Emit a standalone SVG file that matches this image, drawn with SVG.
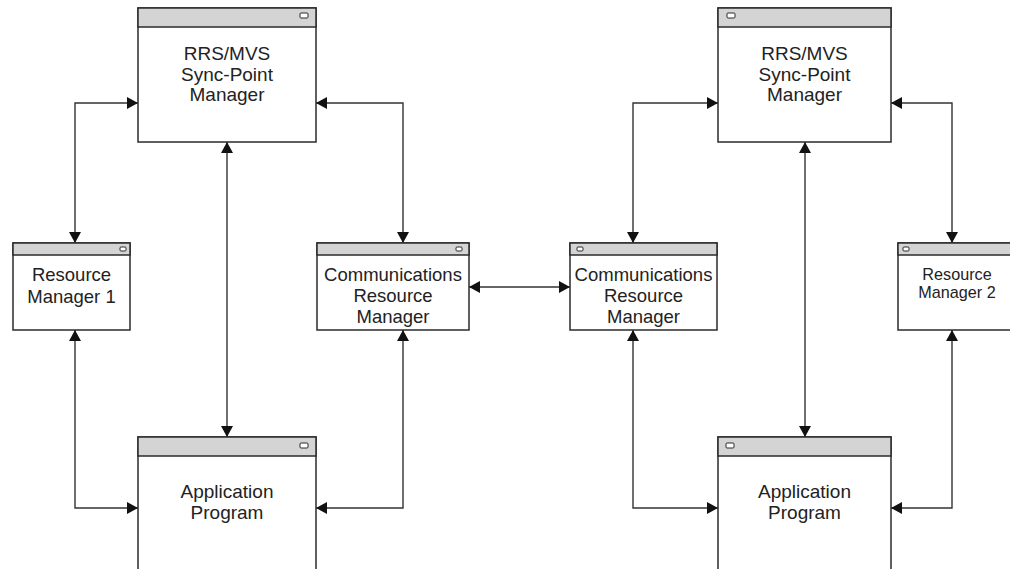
<svg xmlns="http://www.w3.org/2000/svg" width="1010" height="569" viewBox="0 0 1010 569">
<style>
.box{fill:#fff;stroke:#2b2b2b;stroke-width:1.5}
.bar{fill:#d4d4d4;stroke:#2b2b2b;stroke-width:1.5}
.ico{fill:#fff;stroke:#2b2b2b;stroke-width:1}
.t{font-family:"Liberation Sans",Arial,sans-serif;fill:#222;text-anchor:middle}
.c{fill:none;stroke:#333;stroke-width:1.4;marker-start:url(#ah);marker-end:url(#ah)}
</style>
<defs>
<marker id="ah" markerUnits="userSpaceOnUse" markerWidth="12" markerHeight="12" refX="11" refY="6" orient="auto-start-reverse">
<path d="M0,0 L11,6 L0,12 Z" fill="#111"/>
</marker>
</defs>
<rect width="1010" height="569" fill="#fff"/>
<g id="connectors">
<path class="c" d="M75,243 V103 H138"/>
<path class="c" d="M316,103 H403 V243"/>
<path class="c" d="M227,142 V437"/>
<path class="c" d="M75,330 V508 H138"/>
<path class="c" d="M403,330 V508 H316"/>
<path class="c" d="M469,287 H570"/>
<path class="c" d="M633,243 V103 H718"/>
<path class="c" d="M891,103 H952 V243"/>
<path class="c" d="M805,142 V437"/>
<path class="c" d="M633,330 V508 H718"/>
<path class="c" d="M952,330 V508 H891"/>
</g>
<g id="spm-left">
<rect class="box" x="138" y="8" width="178" height="134"/>
<rect class="bar" x="138" y="8" width="178" height="19"/>
<rect class="ico" x="300" y="13" width="8" height="5" rx="1"/>
<text class="t" font-size="19"><tspan x="227" y="60">RRS/MVS</tspan><tspan x="227" y="80.5">Sync-Point</tspan><tspan x="227" y="101">Manager</tspan></text>
</g>
<g id="rm1">
<rect class="box" x="13" y="243" width="117" height="87"/>
<rect class="bar" x="13" y="243" width="117" height="12"/>
<rect class="ico" x="120" y="247" width="6" height="4" rx="1"/>
<text class="t" font-size="18.5"><tspan x="71.5" y="281">Resource</tspan><tspan x="71.5" y="302.5">Manager 1</tspan></text>
</g>
<g id="crm-left">
<rect class="box" x="317" y="243" width="152" height="87"/>
<rect class="bar" x="317" y="243" width="152" height="12"/>
<rect class="ico" x="456" y="247" width="6" height="4" rx="1"/>
<text class="t" font-size="18.5"><tspan x="393" y="281">Communications</tspan><tspan x="393" y="302">Resource</tspan><tspan x="393" y="323">Manager</tspan></text>
</g>
<g id="app-left">
<rect class="box" x="138" y="437" width="178" height="140"/>
<rect class="bar" x="138" y="437" width="178" height="19"/>
<rect class="ico" x="300" y="443" width="8" height="5" rx="1"/>
<text class="t" font-size="19"><tspan x="227" y="498">Application</tspan><tspan x="227" y="519">Program</tspan></text>
</g>
<g id="spm-right">
<rect class="box" x="718" y="8" width="173" height="134"/>
<rect class="bar" x="718" y="8" width="173" height="19"/>
<rect class="ico" x="727" y="13" width="8" height="5" rx="1"/>
<text class="t" font-size="19"><tspan x="804.5" y="60">RRS/MVS</tspan><tspan x="804.5" y="80.5">Sync-Point</tspan><tspan x="804.5" y="101">Manager</tspan></text>
</g>
<g id="crm-right">
<rect class="box" x="570" y="243" width="147" height="87"/>
<rect class="bar" x="570" y="243" width="147" height="12"/>
<rect class="ico" x="577" y="247" width="6" height="4" rx="1"/>
<text class="t" font-size="18.5"><tspan x="643.5" y="281">Communications</tspan><tspan x="643.5" y="302">Resource</tspan><tspan x="643.5" y="323">Manager</tspan></text>
</g>
<g id="rm2">
<rect class="box" x="898" y="243" width="125" height="87"/>
<rect class="bar" x="898" y="243" width="125" height="12"/>
<rect class="ico" x="903" y="247" width="6" height="4" rx="1"/>
<text class="t" font-size="16.2"><tspan x="957" y="280">Resource</tspan><tspan x="957" y="298">Manager 2</tspan></text>
</g>
<g id="app-right">
<rect class="box" x="718" y="437" width="173" height="140"/>
<rect class="bar" x="718" y="437" width="173" height="19"/>
<rect class="ico" x="726" y="443" width="8" height="5" rx="1"/>
<text class="t" font-size="19"><tspan x="804.5" y="498">Application</tspan><tspan x="804.5" y="519">Program</tspan></text>
</g>
</svg>
